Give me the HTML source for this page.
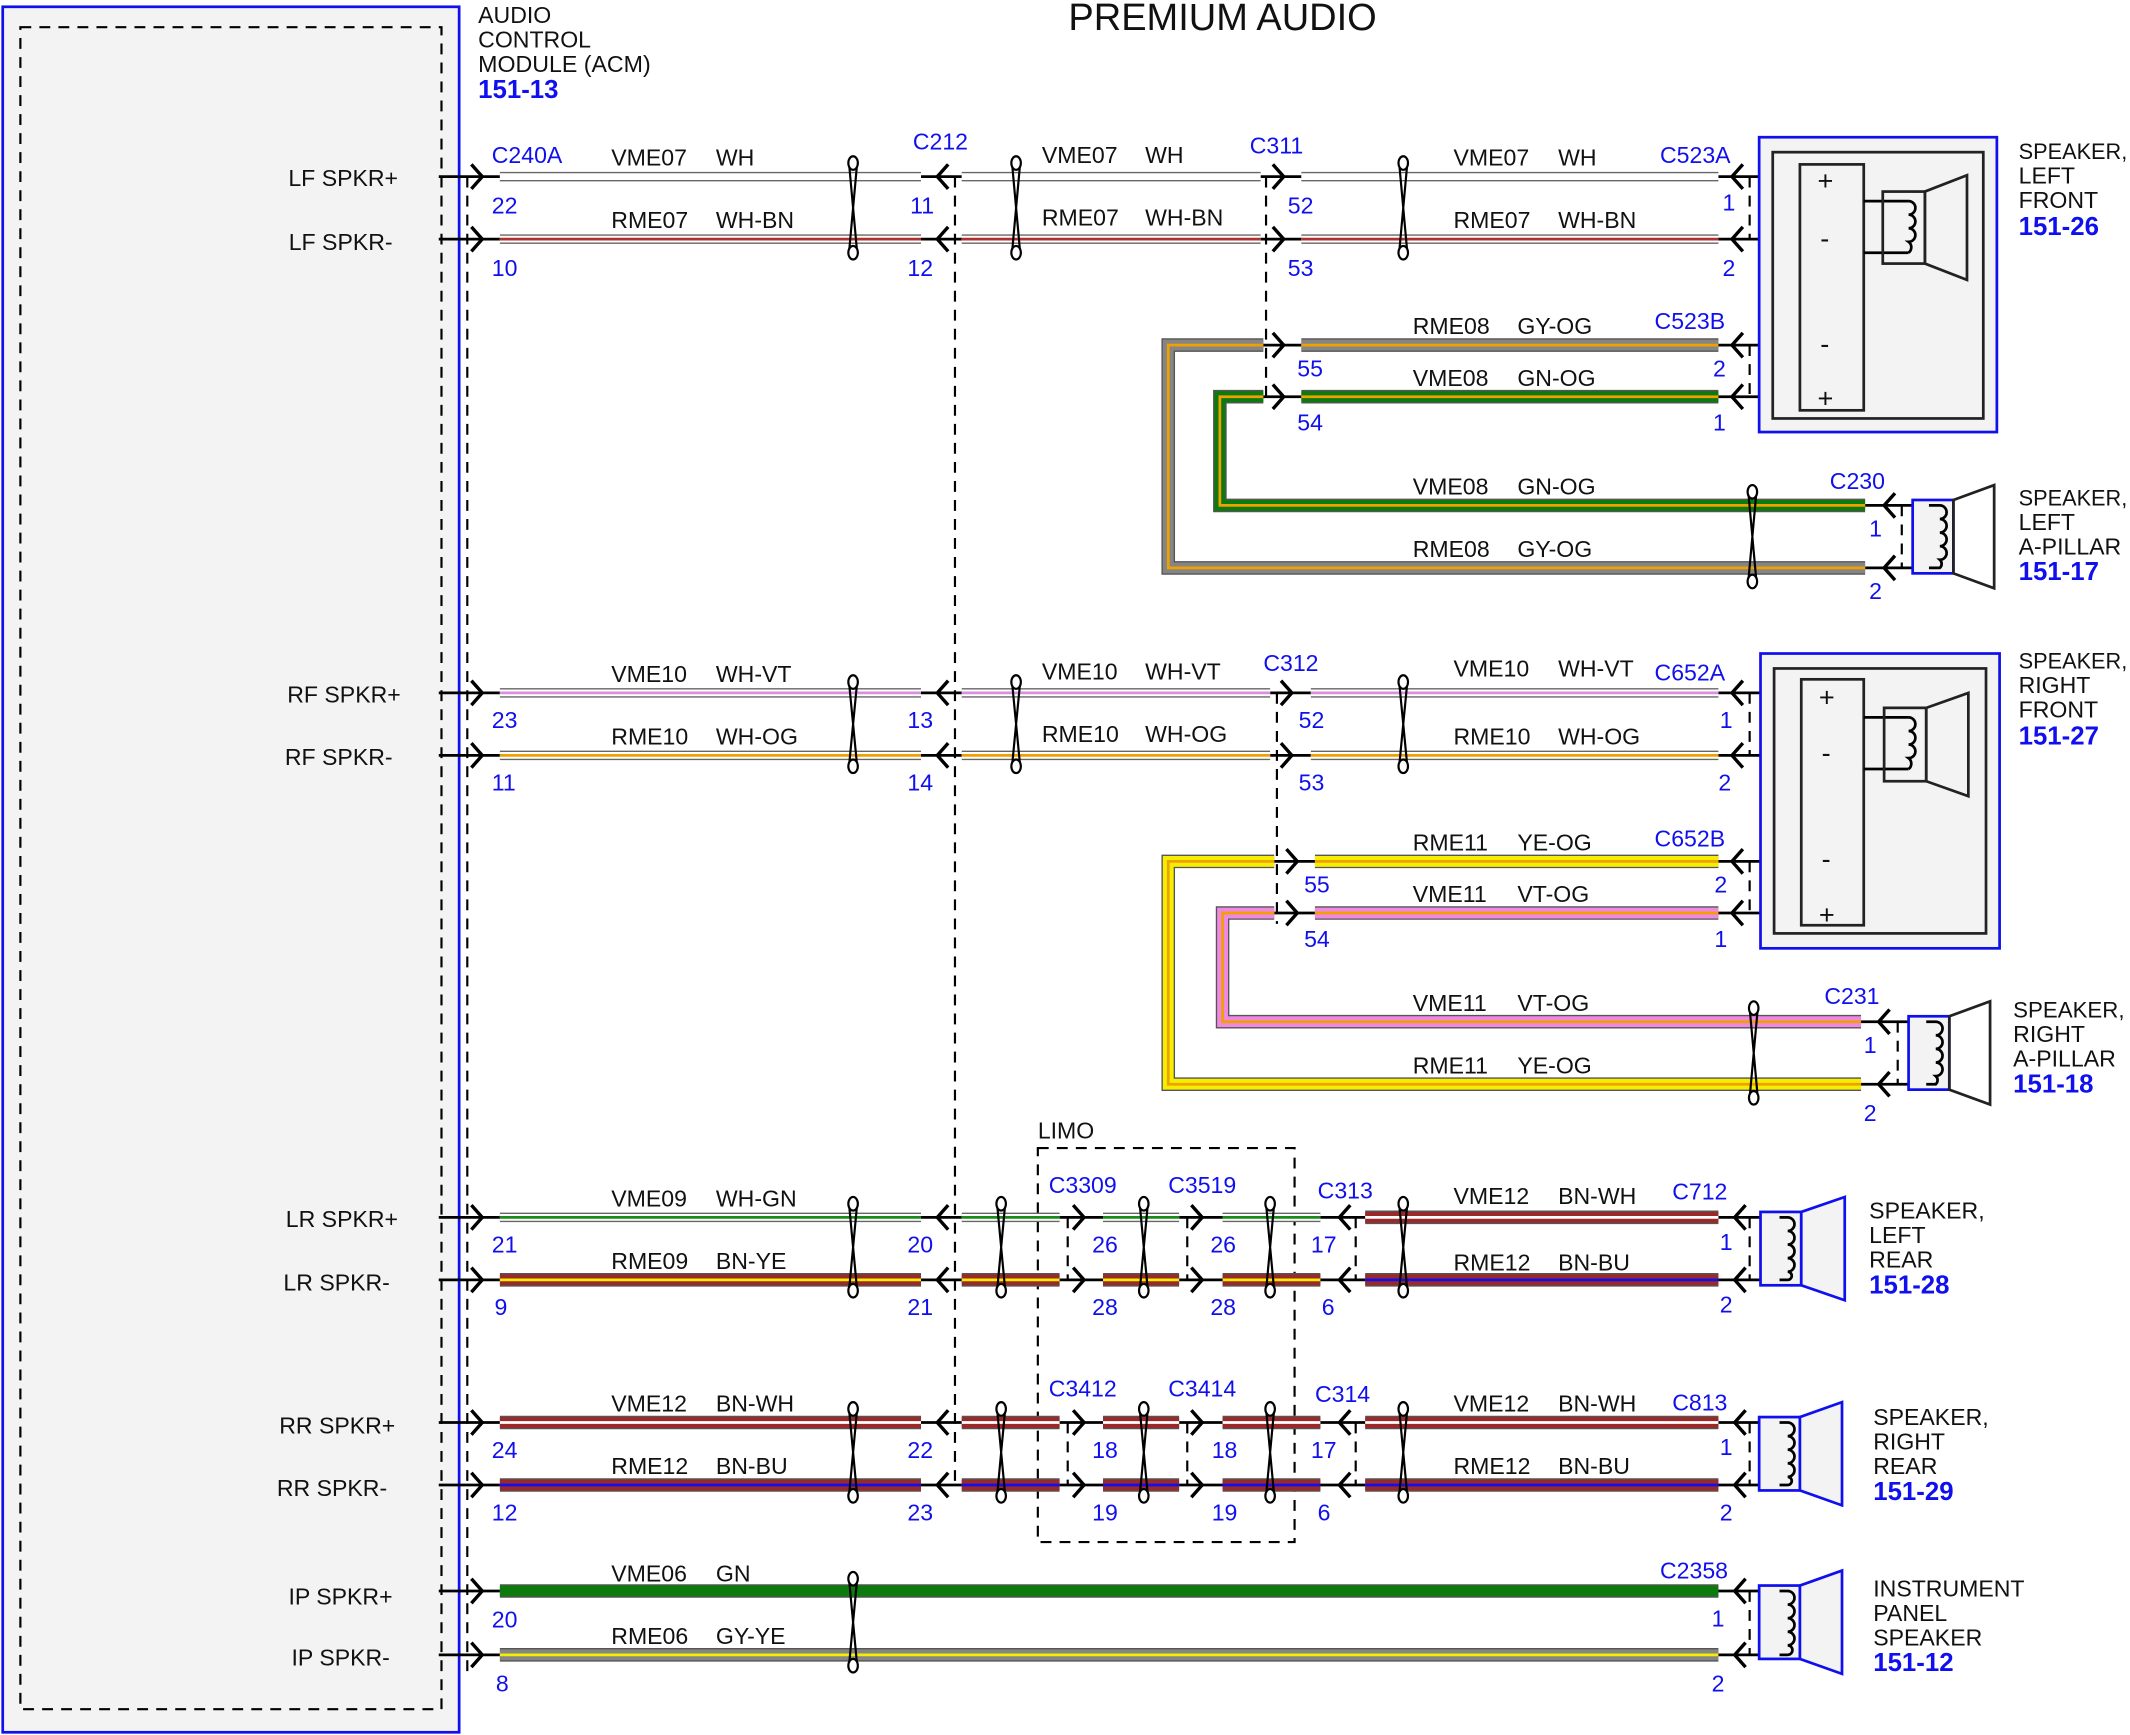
<!DOCTYPE html>
<html><head><meta charset="utf-8"><style>
html,body{margin:0;padding:0;background:#fff}
svg{display:block}
text{font-family:"Liberation Sans","DejaVu Sans",sans-serif;font-size:17px;fill:#111}
.bl{fill:#1010ee}
.bb{fill:#1010ee;font-weight:bold;font-size:19px}
.sp{font-size:16.5px}
.pm{font-size:20px}
.o{fill:none;stroke:#555;stroke-width:10}
.b{fill:none;stroke-width:8}
.o2{fill:none;stroke:#666;stroke-width:7}
.b2{fill:none;stroke:#fff;stroke-width:5}
.s{fill:none;stroke-width:2}
.ch{fill:none;stroke:#000;stroke-width:2.5}
.ln{stroke:#000;stroke-width:2;fill:none}
.d{stroke:#000;stroke-width:1.6;stroke-dasharray:8 6;fill:none}
.tw{fill:#fff;stroke:#000;stroke-width:1.6}
</style></head><body>
<svg width="2130" height="1735" viewBox="0 0 1568 1277" preserveAspectRatio="none" xmlns="http://www.w3.org/2000/svg" xmlns:xlink="http://www.w3.org/1999/xlink">
<defs>
<path id="lf1" d="M368 130H678M708 130H928M958 130H1265"/>
<path id="lf2" d="M368 176H678M708 176H928M958 176H1265"/>
<path id="r8" d="M930 254H860V418H1373M958 254H1265"/>
<path id="v8" d="M930 292H898V372H1373M958 292H1265"/>
<path id="rf1" d="M368 510H678M708 510H935M965 510H1265"/>
<path id="rf2" d="M368 556H678M708 556H935M965 556H1265"/>
<path id="r11" d="M938 634H860V798H1370M968 634H1265"/>
<path id="v11" d="M938 672H900V752H1370M968 672H1265"/>
<path id="lr1" d="M368 896H678M708 896H780M812 896H868M900 896H972"/>
<path id="lr1b" d="M1005 896H1265"/>
<path id="lr2" d="M368 942H678M708 942H780M812 942H868M900 942H972"/>
<path id="lr2b" d="M1005 942H1265"/>
<path id="rr1" d="M368 1047H678M708 1047H780M812 1047H868M900 1047H972M1005 1047H1265"/>
<path id="rr2" d="M368 1093H678M708 1093H780M812 1093H868M900 1093H972M1005 1093H1265"/>
<path id="ip1" d="M368 1171H1265"/>
<path id="ip2" d="M368 1218H1265"/>
<g id="tw66"><path d="M-3 0L3 66M3 0L-3 66" fill="none"/><ellipse cx="0" cy="0" rx="3.5" ry="5"/><ellipse cx="0" cy="66" rx="3.5" ry="5"/></g>
<g id="tw62"><path d="M-3 0L3 62M3 0L-3 62" fill="none"/><ellipse cx="0" cy="0" rx="3.5" ry="5"/><ellipse cx="0" cy="62" rx="3.5" ry="5"/></g>
<g id="tw64"><path d="M-3 0L3 64M3 0L-3 64" fill="none"/><ellipse cx="0" cy="0" rx="3.5" ry="5"/><ellipse cx="0" cy="64" rx="3.5" ry="5"/></g>
</defs>

<text x="900" y="22" text-anchor="middle" style="font-size:28px">PREMIUM AUDIO</text>

<rect x="2" y="5" width="336" height="1270" fill="#f3f3f3" stroke="#1010ee" stroke-width="2"/>
<rect x="15" y="20" width="310" height="1238" class="d"/>
<text x="352" y="17">AUDIO</text><text x="352" y="35">CONTROL</text><text x="352" y="53" textLength="127" lengthAdjust="spacingAndGlyphs">MODULE (ACM)</text><text x="352" y="72" class="bb">151-13</text>
<g text-anchor="end">
<text x="293" y="137">LF SPKR+</text><text x="289" y="184">LF SPKR-</text>
<text x="295" y="517">RF SPKR+</text><text x="289" y="563">RF SPKR-</text>
<text x="293" y="903">LR SPKR+</text><text x="287" y="950">LR SPKR-</text>
<text x="291" y="1055">RR SPKR+</text><text x="285" y="1101">RR SPKR-</text>
<text x="289" y="1181">IP SPKR+</text><text x="287" y="1226">IP SPKR-</text>
</g>

<path class="d" d="M344 130V1235M703 130V1095M932 130V298M940 510V680M786 896V942M786 1047V1093M874 896V942M874 1047V1093M998 896V942M998 1047V1093M1288 130V176M1288 254V292M1288 510V556M1288 634V672M1288 896V942M1288 1047V1093M1288 1171V1218M1400 372V418M1397 752V798"/>
<rect x="764" y="845" width="189" height="290" class="d"/>
<text x="764" y="838">LIMO</text>

<path class="ln" d="M323 130H368M323 176H368M323 510H368M323 556H368M323 896H368M323 942H368M323 1047H368M323 1093H368M323 1171H368M323 1218H368
M678 130H708M678 176H708M678 510H708M678 556H708M678 896H708M678 942H708M678 1047H708M678 1093H708
M928 130H958M928 176H958M928 254H958M928 292H958M935 510H965M935 556H965M938 634H968M938 672H968
M1265 130H1325M1265 176H1325M1265 254H1325M1265 292H1325M1265 510H1326M1265 556H1326M1265 634H1326M1265 672H1326
M1373 372H1420M1373 418H1420M1370 752H1418M1370 798H1418
M780 896H812M868 896H900M972 896H1005M780 942H812M868 942H900M972 942H1005
M780 1047H812M868 1047H900M972 1047H1005M780 1093H812M868 1093H900M972 1093H1005
M1265 896H1310M1265 942H1310M1265 1047H1310M1265 1093H1310M1265 1171H1310M1265 1218H1310"/>

<use href="#lf1" class="o2"/><use href="#lf1" class="b2"/>
<use href="#lf2" class="o2"/><use href="#lf2" class="b2"/><use href="#lf2" class="s" stroke="#b03030"/>
<use href="#r8" class="o"/><use href="#r8" class="b" stroke="#858585"/><use href="#r8" class="s" stroke="#f0a000"/>
<use href="#v8" class="o"/><use href="#v8" class="b" stroke="#0c7a0c"/><use href="#v8" class="s" stroke="#f0a000"/>
<use href="#rf1" class="o2"/><use href="#rf1" class="b2"/><use href="#rf1" class="s" stroke="#d890e0"/>
<use href="#rf2" class="o2"/><use href="#rf2" class="b2"/><use href="#rf2" class="s" stroke="#f0a000"/>
<use href="#r11" class="o"/><use href="#r11" class="b" stroke="#f5ee00"/><use href="#r11" class="s" stroke="#f0a000"/>
<use href="#v11" class="o"/><use href="#v11" class="b" stroke="#ee88e0"/><use href="#v11" class="s" stroke="#f0a000"/>
<use href="#lr1" class="o2"/><use href="#lr1" class="b2"/><use href="#lr1" class="s" stroke="#1a8a1a"/>
<use href="#lr1b" class="o"/><use href="#lr1b" class="b" stroke="#9a2a2a"/><use href="#lr1b" class="s" stroke="#fff"/>
<use href="#lr2" class="o"/><use href="#lr2" class="b" stroke="#9a2a2a"/><use href="#lr2" class="s" stroke="#f5ee00"/>
<use href="#lr2b" class="o"/><use href="#lr2b" class="b" stroke="#9a2a2a"/><use href="#lr2b" class="s" stroke="#1010ee"/>
<use href="#rr1" class="o"/><use href="#rr1" class="b" stroke="#9a2a2a"/><use href="#rr1" class="s" stroke="#fff"/>
<use href="#rr2" class="o"/><use href="#rr2" class="b" stroke="#9a2a2a"/><use href="#rr2" class="s" stroke="#1010ee"/>
<use href="#ip1" class="o"/><use href="#ip1" class="b" stroke="#0c7a0c"/>
<use href="#ip2" class="o"/><use href="#ip2" class="b" stroke="#858585"/><use href="#ip2" class="s" stroke="#f5ee00"/>

<path class="ch" d="
M347 121L355 130L347 139M347 167L355 176L347 185M347 501L355 510L347 519M347 547L355 556L347 565M347 887L355 896L347 905M347 933L355 942L347 951M347 1038L355 1047L347 1056M347 1084L355 1093L347 1102M347 1162L355 1171L347 1180M347 1209L355 1218L347 1227
M937 121L945 130L937 139M937 167L945 176L937 185M937 245L945 254L937 263M937 283L945 292L937 301
M943 501L951 510L943 519M943 547L951 556L943 565M947 625L955 634L947 643M947 663L955 672L947 681
M790 887L798 896L790 905M790 933L798 942L790 951M877 887L885 896L877 905M877 933L885 942L877 951
M790 1038L798 1047L790 1056M790 1084L798 1093L790 1102M877 1038L885 1047L877 1056M877 1084L885 1093L877 1102"/>
<path class="ch" d="
M698 121L690 130L698 139M698 167L690 176L698 185M698 501L690 510L698 519M698 547L690 556L698 565M698 887L690 896L698 905M698 933L690 942L698 951M698 1038L690 1047L698 1056M698 1084L690 1093L698 1102
M1283 121L1275 130L1283 139M1283 167L1275 176L1283 185M1283 245L1275 254L1283 263M1283 283L1275 292L1283 301
M1283 501L1275 510L1283 519M1283 547L1275 556L1283 565M1283 625L1275 634L1283 643M1283 663L1275 672L1283 681
M1395 363L1387 372L1395 381M1395 409L1387 418L1395 427M1391 743L1383 752L1391 761M1391 789L1383 798L1391 807
M994 887L986 896L994 905M994 933L986 942L994 951M994 1038L986 1047L994 1056M994 1084L986 1093L994 1102
M1285 887L1277 896L1285 905M1285 933L1277 942L1285 951M1285 1038L1277 1047L1285 1056M1285 1084L1277 1093L1285 1102M1285 1162L1277 1171L1285 1180M1285 1209L1277 1218L1285 1227"/>

<g class="tw">
<use href="#tw66" x="628" y="120"/><use href="#tw66" x="748" y="120"/><use href="#tw66" x="1033" y="120"/>
<use href="#tw66" x="1290" y="362"/>
<use href="#tw62" x="628" y="502"/><use href="#tw62" x="748" y="502"/><use href="#tw62" x="1033" y="502"/>
<use href="#tw66" x="1291" y="742"/>
<use href="#tw64" x="628" y="886"/><use href="#tw64" x="737" y="886"/><use href="#tw64" x="842" y="886"/><use href="#tw64" x="935" y="886"/><use href="#tw64" x="1033" y="886"/>
<use href="#tw64" x="628" y="1037"/><use href="#tw64" x="737" y="1037"/><use href="#tw64" x="842" y="1037"/><use href="#tw64" x="935" y="1037"/><use href="#tw64" x="1033" y="1037"/>
<use href="#tw64" x="628" y="1162"/>
</g>

<rect x="1295" y="101" width="175" height="217" fill="#f3f3f3" stroke="#1010ee" stroke-width="2"/>
<rect x="1305" y="112" width="155" height="196" fill="none" stroke="#222" stroke-width="2"/>
<rect x="1325" y="121" width="47" height="181" fill="#f3f3f3" stroke="#222" stroke-width="2"/>
<text x="1338" y="140" class="pm">+</text><text x="1340" y="182" class="pm">-</text><text x="1340" y="260" class="pm">-</text><text x="1338" y="300" class="pm">+</text>
<path class="ln" d="M1372 148H1405M1372 186H1405"/>
<rect x="1386" y="141" width="31" height="53" fill="none" stroke="#222" stroke-width="2"/>
<path class="ln" d="M1405 148a5 5 0 0 1 0 10a5 5 0 0 1 0 10a5 5 0 0 1 0 10a5 5 0 0 1 0 8"/>
<polygon points="1417,141 1448,129 1448,206 1417,194" fill="none" stroke="#222" stroke-width="2"/>
<text x="1486" y="117" class="sp" textLength="80" lengthAdjust="spacingAndGlyphs">SPEAKER,</text><text x="1486" y="135">LEFT</text><text x="1486" y="153">FRONT</text><text x="1486" y="173" class="bb">151-26</text>

<rect x="1296" y="481" width="176" height="217" fill="#f3f3f3" stroke="#1010ee" stroke-width="2"/>
<rect x="1306" y="492" width="156" height="195" fill="none" stroke="#222" stroke-width="2"/>
<rect x="1326" y="500" width="46" height="181" fill="#f3f3f3" stroke="#222" stroke-width="2"/>
<text x="1339" y="520" class="pm">+</text><text x="1341" y="561" class="pm">-</text><text x="1341" y="639" class="pm">-</text><text x="1339" y="680" class="pm">+</text>
<path class="ln" d="M1372 528H1405M1372 566H1405"/>
<rect x="1387" y="521" width="31" height="54" fill="none" stroke="#222" stroke-width="2"/>
<path class="ln" d="M1405 528a5 5 0 0 1 0 10a5 5 0 0 1 0 10a5 5 0 0 1 0 10a5 5 0 0 1 0 8"/>
<polygon points="1418,521 1449,510 1449,586 1418,575" fill="none" stroke="#222" stroke-width="2"/>
<text x="1486" y="492" class="sp" textLength="80" lengthAdjust="spacingAndGlyphs">SPEAKER,</text><text x="1486" y="510">RIGHT</text><text x="1486" y="528">FRONT</text><text x="1486" y="548" class="bb">151-27</text>

<rect x="1408" y="368" width="30" height="54" fill="#f3f3f3" stroke="#1010ee" stroke-width="2"/>
<path class="ln" d="M1420 372H1428a5 5 0 0 1 0 10a5 5 0 0 1 0 10a5 5 0 0 1 0 10a5 5 0 0 1 0 10a4 4 0 0 1 0 6H1420"/>
<polygon points="1438,368 1468,357 1468,433 1438,422" fill="none" stroke="#222" stroke-width="2"/>
<text x="1486" y="372" class="sp" textLength="80" lengthAdjust="spacingAndGlyphs">SPEAKER,</text><text x="1486" y="390">LEFT</text><text x="1486" y="408">A-PILLAR</text><text x="1486" y="427" class="bb">151-17</text>
<rect x="1405" y="748" width="30" height="54" fill="#f3f3f3" stroke="#1010ee" stroke-width="2"/>
<path class="ln" d="M1418 752H1425a5 5 0 0 1 0 10a5 5 0 0 1 0 10a5 5 0 0 1 0 10a5 5 0 0 1 0 10a4 4 0 0 1 0 6H1418"/>
<polygon points="1435,748 1465,737 1465,813 1435,802" fill="none" stroke="#222" stroke-width="2"/>
<text x="1482" y="749" class="sp" textLength="82" lengthAdjust="spacingAndGlyphs">SPEAKER,</text><text x="1482" y="767">RIGHT</text><text x="1482" y="785">A-PILLAR</text><text x="1482" y="804" class="bb">151-18</text>

<g fill="#f3f3f3" stroke="#1010ee" stroke-width="2">
<rect x="1296" y="892" width="30" height="54"/><polygon points="1326,892 1358,881 1358,957 1326,946"/>
<rect x="1295" y="1043" width="30" height="54"/><polygon points="1325,1043 1356,1032 1356,1108 1325,1097"/>
<rect x="1295" y="1167" width="30" height="54"/><polygon points="1325,1167 1356,1156 1356,1232 1325,1221"/>
</g>
<path class="ln" d="M1310 896H1316a5 5 0 0 1 0 10a5 5 0 0 1 0 10a5 5 0 0 1 0 10a5 5 0 0 1 0 10a3 3 0 0 1 0 6H1310"/>
<path class="ln" d="M1310 1047H1316a5 5 0 0 1 0 10a5 5 0 0 1 0 10a5 5 0 0 1 0 10a5 5 0 0 1 0 10a3 3 0 0 1 0 6H1310"/>
<path class="ln" d="M1310 1171H1316a5 5 0 0 1 0 10a5 5 0 0 1 0 10a5 5 0 0 1 0 10a5 5 0 0 1 0 10a3 3 0 0 1 0 7H1310"/>
<text x="1376" y="897">SPEAKER,</text><text x="1376" y="915">LEFT</text><text x="1376" y="933">REAR</text><text x="1376" y="952" class="bb">151-28</text>
<text x="1379" y="1049">SPEAKER,</text><text x="1379" y="1067">RIGHT</text><text x="1379" y="1085">REAR</text><text x="1379" y="1104" class="bb">151-29</text>
<text x="1379" y="1175">INSTRUMENT</text><text x="1379" y="1193">PANEL</text><text x="1379" y="1211">SPEAKER</text><text x="1379" y="1230" class="bb">151-12</text>

<text x="450" y="122">VME07</text><text x="527" y="122">WH</text>
<text x="767" y="120">VME07</text><text x="843" y="120">WH</text>
<text x="1070" y="122">VME07</text><text x="1147" y="122">WH</text>
<text x="450" y="168">RME07</text><text x="527" y="168">WH-BN</text>
<text x="767" y="166">RME07</text><text x="843" y="166">WH-BN</text>
<text x="1070" y="168">RME07</text><text x="1147" y="168">WH-BN</text>
<text x="1040" y="246">RME08</text><text x="1117" y="246">GY-OG</text>
<text x="1040" y="284">VME08</text><text x="1117" y="284">GN-OG</text>
<text x="1040" y="364">VME08</text><text x="1117" y="364">GN-OG</text>
<text x="1040" y="410">RME08</text><text x="1117" y="410">GY-OG</text>
<text x="450" y="502">VME10</text><text x="527" y="502">WH-VT</text>
<text x="767" y="500">VME10</text><text x="843" y="500">WH-VT</text>
<text x="1070" y="498">VME10</text><text x="1147" y="498">WH-VT</text>
<text x="450" y="548">RME10</text><text x="527" y="548">WH-OG</text>
<text x="767" y="546">RME10</text><text x="843" y="546">WH-OG</text>
<text x="1070" y="548">RME10</text><text x="1147" y="548">WH-OG</text>
<text x="1040" y="626">RME11</text><text x="1117" y="626">YE-OG</text>
<text x="1040" y="664">VME11</text><text x="1117" y="664">VT-OG</text>
<text x="1040" y="744">VME11</text><text x="1117" y="744">VT-OG</text>
<text x="1040" y="790">RME11</text><text x="1117" y="790">YE-OG</text>
<text x="450" y="888">VME09</text><text x="527" y="888">WH-GN</text>
<text x="450" y="934">RME09</text><text x="527" y="934">BN-YE</text>
<text x="1070" y="886">VME12</text><text x="1147" y="886">BN-WH</text>
<text x="1070" y="935">RME12</text><text x="1147" y="935">BN-BU</text>
<text x="450" y="1039">VME12</text><text x="527" y="1039">BN-WH</text>
<text x="450" y="1085">RME12</text><text x="527" y="1085">BN-BU</text>
<text x="1070" y="1039">VME12</text><text x="1147" y="1039">BN-WH</text>
<text x="1070" y="1085">RME12</text><text x="1147" y="1085">BN-BU</text>
<text x="450" y="1164">VME06</text><text x="527" y="1164">GN</text>
<text x="450" y="1210">RME06</text><text x="527" y="1210">GY-YE</text>

<g>
<text x="362" y="120" class="bl">C240A</text><text x="672" y="110" class="bl">C212</text><text x="920" y="113" class="bl">C311</text><text x="1222" y="120" class="bl">C523A</text>
<text x="1218" y="242" class="bl">C523B</text><text x="1347" y="360" class="bl">C230</text>
<text x="930" y="494" class="bl">C312</text><text x="1218" y="501" class="bl">C652A</text><text x="1218" y="623" class="bl">C652B</text><text x="1343" y="739" class="bl">C231</text>
<text x="772" y="878" class="bl">C3309</text><text x="860" y="878" class="bl">C3519</text><text x="970" y="882" class="bl">C313</text><text x="1231" y="883" class="bl">C712</text>
<text x="772" y="1028" class="bl">C3412</text><text x="860" y="1028" class="bl">C3414</text><text x="968" y="1032" class="bl">C314</text><text x="1231" y="1038" class="bl">C813</text>
<text x="1222" y="1162" class="bl">C2358</text>
<text x="362" y="157" class="bl">22</text><text x="362" y="203" class="bl">10</text><text x="670" y="157" class="bl">11</text><text x="668" y="203" class="bl">12</text>
<text x="948" y="157" class="bl">52</text><text x="948" y="203" class="bl">53</text><text x="1268" y="155" class="bl">1</text><text x="1268" y="203" class="bl">2</text>
<text x="955" y="277" class="bl">55</text><text x="1261" y="277" class="bl">2</text><text x="955" y="317" class="bl">54</text><text x="1261" y="317" class="bl">1</text>
<text x="1376" y="395" class="bl">1</text><text x="1376" y="441" class="bl">2</text>
<text x="362" y="536" class="bl">23</text><text x="362" y="582" class="bl">11</text><text x="668" y="536" class="bl">13</text><text x="668" y="582" class="bl">14</text>
<text x="956" y="536" class="bl">52</text><text x="956" y="582" class="bl">53</text><text x="1266" y="536" class="bl">1</text><text x="1265" y="582" class="bl">2</text>
<text x="960" y="657" class="bl">55</text><text x="1262" y="657" class="bl">2</text><text x="960" y="697" class="bl">54</text><text x="1262" y="697" class="bl">1</text>
<text x="1372" y="775" class="bl">1</text><text x="1372" y="825" class="bl">2</text>
<text x="362" y="922" class="bl">21</text><text x="364" y="968" class="bl">9</text><text x="668" y="922" class="bl">20</text><text x="668" y="968" class="bl">21</text>
<text x="804" y="922" class="bl">26</text><text x="804" y="968" class="bl">28</text><text x="891" y="922" class="bl">26</text><text x="891" y="968" class="bl">28</text>
<text x="965" y="922" class="bl">17</text><text x="973" y="968" class="bl">6</text><text x="1266" y="920" class="bl">1</text><text x="1266" y="966" class="bl">2</text>
<text x="362" y="1073" class="bl">24</text><text x="362" y="1119" class="bl">12</text><text x="668" y="1073" class="bl">22</text><text x="668" y="1119" class="bl">23</text>
<text x="804" y="1073" class="bl">18</text><text x="804" y="1119" class="bl">19</text><text x="892" y="1073" class="bl">18</text><text x="892" y="1119" class="bl">19</text>
<text x="965" y="1073" class="bl">17</text><text x="970" y="1119" class="bl">6</text><text x="1266" y="1071" class="bl">1</text><text x="1266" y="1119" class="bl">2</text>
<text x="362" y="1198" class="bl">20</text><text x="365" y="1245" class="bl">8</text><text x="1260" y="1197" class="bl">1</text><text x="1260" y="1245" class="bl">2</text>
</g>
</svg>
</body></html>
